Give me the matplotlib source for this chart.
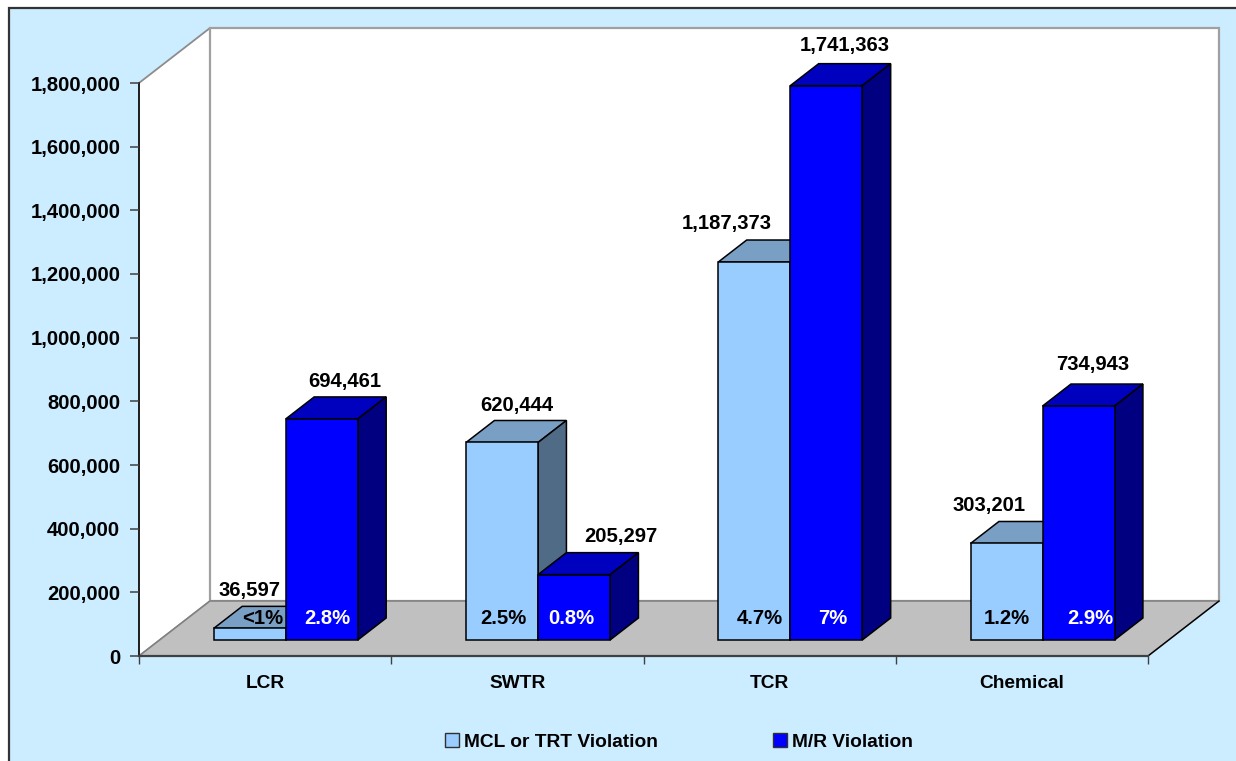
import matplotlib
matplotlib.use('Agg')
import matplotlib.pyplot as plt
from matplotlib.patches import Polygon, Patch, Rectangle

categories = ['LCR', 'SWTR', 'TCR', 'Chemical']
mcl_values = [36597, 620444, 1187373, 303201]
mr_values = [694461, 205297, 1741363, 734943]
mcl_pct = ['<1%', '2.5%', '4.7%', '1.2%']
mr_pct = ['2.8%', '0.8%', '7%', '2.9%']
yticks = [0, 200000, 400000, 600000, 800000, 1000000, 1200000, 1400000, 1600000, 1800000]

W, H = 1236, 761

# hand placed label nudges, pixels from the back top edge of each bar
mcl_label_off = [(-29, 16), (-14, 15), (-56, 17), (-46, 16)]
mr_label_off = [(-5, 15), (18, 16), (-10, 18), (-14, 20)]
mcl_pct_off = [13, 1, 6, 0]
mr_pct_off = [6, -3, 6, 12]

# fake 3d: how far one unit of depth moves a point (data units)
DX = 71 / 252.25
DY = 55 / 573 * 1800000
BAR_W = 72 / 252.25
D_FRONT = 16 / 55
D_BACK = 38 / 55

LIGHT = ('#99CCFF', '#7A9FC4', '#4F6B85')
BLUE = ('#0000FF', '#0000BF', '#000080')

NUM_SIZE = 14.6
TEXT_SIZE = 13.8


def proj(x, y, d=0.0):
    return (x + d * DX, y + d * DY)


plt.rcParams['font.family'] = ['Liberation Sans', 'DejaVu Sans']
plt.rcParams['font.weight'] = 'bold'

fig = plt.figure(figsize=(W / 100, H / 100), dpi=100, facecolor='white')

# light blue chart area with dark frame, runs off the right and bottom
fig.add_artist(Rectangle((8.5 / W, -0.05), 1.1, (H - 8.5) / H + 0.05, transform=fig.transFigure,
                         facecolor='#CCECFF', edgecolor='#333333', linewidth=1.6, zorder=-1))

ax = fig.add_axes([139 / W, (H - 656) / H, 1009 / W, 573 / H])
ax.patch.set_visible(False)
ax.set_xlim(0, 4)
ax.set_ylim(0, 1800000)


def face(points, color, edge='black', lw=1.1, z=2):
    ax.add_patch(Polygon(points, closed=True, facecolor=color, edgecolor=edge,
                         linewidth=lw, clip_on=False, zorder=z, joinstyle='miter'))


# walls and floor
top = yticks[-1]
face([proj(0, 0), proj(0, top), proj(0, top, 1), proj(0, 0, 1)], 'white', '#8C8C8C', 1.3, 1)
face([proj(0, 0, 1), proj(0, top, 1), proj(4, top, 1), proj(4, 0, 1)], 'white', '#A0A0A0', 1.6, 1)
face([proj(0, 0), proj(0, 0, 1), proj(4, 0, 1), proj(4, 0)], '#C0C0C0', '#808080', 1.1, 1.2)
ax.plot([proj(4, 0)[0], proj(4, 0, 1)[0]], [0, DY], color='black', lw=1, clip_on=False, zorder=1.3)


def draw_bar(x0, value, colors, z):
    x1 = x0 + BAR_W
    # top and side first, the front goes on them
    face([proj(x0, value, D_FRONT), proj(x0, value, D_BACK), proj(x1, value, D_BACK), proj(x1, value, D_FRONT)],
         colors[1], z=z)
    face([proj(x1, 0, D_FRONT), proj(x1, value, D_FRONT), proj(x1, value, D_BACK), proj(x1, 0, D_BACK)],
         colors[2], z=z)
    face([proj(x0, 0, D_FRONT), proj(x0, value, D_FRONT), proj(x1, value, D_FRONT), proj(x1, 0, D_FRONT)],
         colors[0], z=z)


for i, cat in enumerate(categories):
    center = i + 0.5
    draw_bar(center - BAR_W, mcl_values[i], LIGHT, 3 + i)
    draw_bar(center, mr_values[i], BLUE, 3.5 + i)

    for x0, value, off, pct, pct_off, col in [
        (center - BAR_W, mcl_values[i], mcl_label_off[i], mcl_pct[i], mcl_pct_off[i], 'black'),
        (center, mr_values[i], mr_label_off[i], mr_pct[i], mr_pct_off[i], 'white'),
    ]:
        ax.annotate(f'{value:,}', xy=proj(x0 + BAR_W / 2, value, D_BACK), xytext=off,
                    textcoords='offset pixels', ha='center', va='center', fontsize=NUM_SIZE,
                    color='black', zorder=20, annotation_clip=False)
        ax.annotate(pct, xy=proj(x0 + BAR_W / 2, 0, D_FRONT), xytext=(pct_off, 22),
                    textcoords='offset pixels', ha='center', va='center', fontsize=NUM_SIZE,
                    color=col, zorder=20, annotation_clip=False)

# axes
ax.set_yticks(yticks)
ax.set_yticklabels([f'{v:,}' for v in yticks], fontsize=NUM_SIZE)
ax.tick_params(axis='y', length=6.5, width=1.1, color='#404040', pad=7)
ax.set_xticks(range(5))
ax.set_xticklabels([])
ax.tick_params(axis='x', which='major', length=6, width=1, color='#404040')
ax.set_xticks([i + 0.5 for i in range(4)], minor=True)
ax.set_xticklabels(categories, minor=True, fontsize=TEXT_SIZE)
ax.tick_params(axis='x', which='minor', length=0, pad=14)
for side in ['top', 'right']:
    ax.spines[side].set_visible(False)
ax.spines['left'].set_color('black')
ax.spines['left'].set_linewidth(1.1)
ax.spines['left'].set_zorder(1.5)
ax.spines['bottom'].set_color('#404040')
ax.spines['bottom'].set_linewidth(1.6)
ax.spines['bottom'].set_zorder(1.5)

handles = [Patch(facecolor=LIGHT[0], edgecolor='#303030', linewidth=1.0, label='MCL or TRT Violation'),
           Patch(facecolor=BLUE[0], edgecolor='#303030', linewidth=1.0, label='M/R Violation')]
fig.legend(handles=handles, ncol=2, frameon=False, fontsize=TEXT_SIZE, loc='center',
           bbox_to_anchor=(679 / W, (H - 742) / H), handlelength=0.75, handleheight=0.75,
           handletextpad=0.25, columnspacing=6.0, borderpad=0, borderaxespad=0)

fig.savefig('out.png', dpi=100, facecolor=fig.get_facecolor())
